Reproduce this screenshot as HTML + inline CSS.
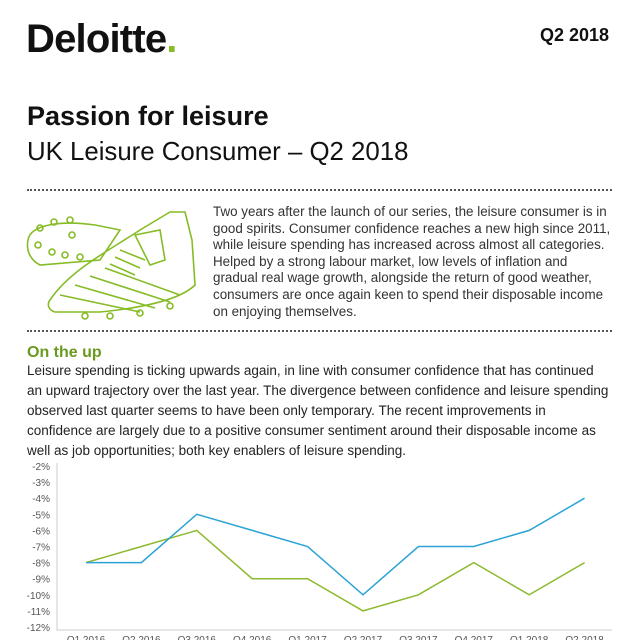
<!DOCTYPE html>
<html><head><meta charset="utf-8"><style>
body{margin:0;width:640px;height:640px;overflow:hidden;background:#fff;font-family:"Liberation Sans",sans-serif;color:#111;position:relative}
.a{position:absolute;margin:0}
.dots{position:absolute;left:27px;width:585px;border-top:2px dotted #555;height:0}
.l{display:block;white-space:nowrap}
</style></head><body>
<div class="a" style="left:26px;top:17px;font-size:40px;font-weight:bold;letter-spacing:-0.8px">Deloitte<span style="color:#86bc25">.</span></div>
<div class="a" style="left:540px;top:25px;font-size:18px;font-weight:bold">Q2 2018</div>
<div class="a" style="left:27px;top:101px;font-size:27px;font-weight:bold">Passion for leisure</div>
<div class="a" style="left:27px;top:138px;font-size:25.8px;font-weight:300">UK Leisure Consumer – Q2 2018</div>
<div class="dots" style="top:189px"></div>
<svg class="a" style="left:20px;top:200px" width="180" height="125" viewBox="0 0 180 125" fill="none" stroke="#86bc25" stroke-width="1.6">
<path d="M8 40 C10 25 40 20 75 25 L100 30 L80 60 L20 65 C10 60 6 50 8 40Z"/>
<circle cx="20" cy="28" r="3"/><circle cx="34" cy="22" r="3"/><circle cx="50" cy="20" r="3"/><circle cx="52" cy="35" r="3"/><circle cx="18" cy="45" r="3"/><circle cx="32" cy="52" r="3"/><circle cx="45" cy="55" r="3"/><circle cx="60" cy="57" r="3"/>
<path d="M30 100 C50 70 90 50 120 30 L150 12 L165 12 L172 40 L175 85 C160 100 120 108 80 112 L35 112 C28 110 27 104 30 100Z"/>
<path d="M115 35 L140 30 L145 60 L130 65Z"/>
<path d="M100 50 L125 60 M95 57 L120 68 M90 64 L115 75"/>
<path d="M40 95 L120 112 M55 85 L135 108 M70 76 L150 102 M85 68 L160 95"/>
<circle cx="65" cy="116" r="3"/><circle cx="90" cy="116" r="3"/><circle cx="120" cy="113" r="3"/><circle cx="150" cy="106" r="3"/>
</svg>
<p class="a" style="left:213px;top:204px;font-size:13.4px;line-height:16.6px;color:#333">
<span class="l">Two years after the launch of our series, the leisure consumer is in</span>
<span class="l">good spirits. Consumer confidence reaches a new high since 2011,</span>
<span class="l">while leisure spending has increased across almost all categories.</span>
<span class="l">Helped by a strong labour market, low levels of inflation and</span>
<span class="l">gradual real wage growth, alongside the return of good weather,</span>
<span class="l">consumers are once again keen to spend their disposable income</span>
<span class="l">on enjoying themselves.</span></p>
<div class="dots" style="top:330px"></div>
<div class="a" style="left:27px;top:344px;font-size:16px;font-weight:bold;color:#6a9a1f">On the up</div>
<p class="a" style="left:27px;top:361px;font-size:13.5px;line-height:20px;color:#222">
<span class="l">Leisure spending is ticking upwards again, in line with consumer confidence that has continued</span>
<span class="l">an upward trajectory over the last year. The divergence between confidence and leisure spending</span>
<span class="l">observed last quarter seems to have been only temporary. The recent improvements in</span>
<span class="l">confidence are largely due to a positive consumer sentiment around their disposable income as</span>
<span class="l">well as job opportunities; both key enablers of leisure spending.</span></p>
<svg class="a" id="chart" style="left:0;top:0" width="640" height="640"></svg>
<script>
const categories=["Q1 2016","Q2 2016","Q3 2016","Q4 2016","Q1 2017","Q2 2017","Q3 2017","Q4 2017","Q1 2018","Q2 2018"];
const confidence=[-8,-8,-5,-6,-7,-10,-7,-7,-6,-4];
const spending=[-8,-7,-6,-9,-9,-11,-10,-8,-10,-8];
const yTicks=[-2,-3,-4,-5,-6,-7,-8,-9,-10,-11,-12];
const svg=document.getElementById('chart');const NS='http://www.w3.org/2000/svg';
const y=v=>466+(-2-v)*16.1;
const x=i=>86+i*55.4;
function mk(t,a){const e=document.createElementNS(NS,t);for(const k in a)e.setAttribute(k,a[k]);svg.appendChild(e);return e;}
let ax=mk('path',{d:'M57 463 V630 H612',stroke:'#ccc',fill:'none'});


yTicks.forEach(v=>{const t=mk('text',{x:50,y:y(v)+4,'font-size':10,'text-anchor':'end',fill:'#555','font-family':'Liberation Sans'});t.textContent=v+'%';

});
categories.forEach((c,i)=>{const t=mk('text',{x:x(i),y:643,'font-size':10,'text-anchor':'middle',fill:'#555','font-family':'Liberation Sans'});t.textContent=c;

});
function line(d,c,n){const p=mk('polyline',{points:d.map((v,i)=>x(i)+','+y(v)).join(' '),fill:'none',stroke:c,'stroke-width':1.5});

}
line(spending,'#8db92e','spending-line');
line(confidence,'#2ba3d6','confidence-line');
</script>
</body></html>
